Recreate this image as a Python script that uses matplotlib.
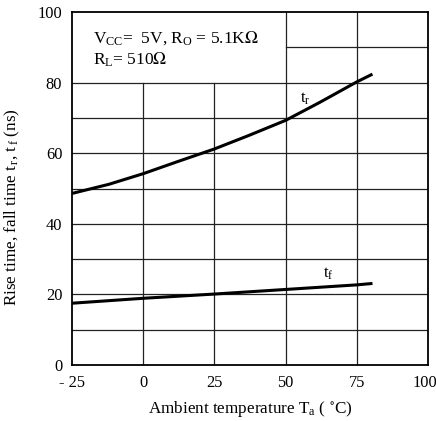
import matplotlib.pyplot as plt
from matplotlib.transforms import ScaledTranslation

plt.rcParams['font.family'] = ['Liberation Serif', 'DejaVu Serif']
plt.rcParams['mathtext.fontset'] = 'stix'

# rise time t_r (ns) vs ambient temperature
tr_temp = [-25, -12, 0, 12, 25, 37, 50, 62, 75, 80.5]
tr_vals = [48.6, 51.2, 54.2, 57.6, 61.2, 65.0, 69.3, 74.4, 80.2, 82.4]

# fall time t_f (ns)
tf_temp = [-25, 0, 25, 50, 75, 80.5]
tf_vals = [17.5, 18.9, 20.1, 21.4, 22.7, 23.1]

x_ticks = [-25, 0, 25, 50, 75, 100]
x_tick_labels = ['- 25', '0', '25', '50', '75', '100']
y_ticks = [0, 20, 40, 60, 80, 100]

fig = plt.figure(figsize=(4.36, 4.21), dpi=100)
ax = fig.add_axes([72 / 436, 56 / 421, 356 / 436, 353 / 421])

ax.set_xlim(-25, 100)
ax.set_ylim(0, 100)

# grid, left out behind the condition box (x < 50, y > 80)
for y in range(10, 100, 10):
    x0 = 50 if y > 80 else -25
    ax.plot([x0, 100], [y, y], color='#222222', lw=0.9, zorder=1)
for x in [0, 25, 50, 75]:
    y1 = 80 if x < 50 else 100
    ax.plot([x, x], [0, y1], color='#222222', lw=0.9, zorder=1)

ax.plot(tr_temp, tr_vals, color='black', lw=2.2, zorder=3, solid_capstyle='butt')
ax.plot(tf_temp, tf_vals, color='black', lw=2.2, zorder=3, solid_capstyle='butt')

ax.text(55, 74.2, r'$\mathregular{t_r}$', fontsize=12)
ax.text(63, 24.9, r'$\mathregular{t_f}$', fontsize=12)

ax.text(-17.6, 91.3, r'$\mathregular{V_{CC}}$=  5V, $\mathregular{R_O}$ = 5.1K$\Omega$', fontsize=12.5)
ax.text(-17.6, 85.0, r'$\mathregular{R_L}$= 510$\Omega$', fontsize=12.5)

ax.set_xticks(x_ticks)
ax.set_xticklabels(x_tick_labels)
ax.set_yticks(y_ticks)
ax.tick_params(length=0, labelsize=11.8, pad=7)
lab = ax.get_xticklabels()[-1]
lab.set_transform(lab.get_transform() + ScaledTranslation(-0.03, 0, fig.dpi_scale_trans))
for s in ax.spines.values():
    s.set_linewidth(1.3)

ax.set_xlabel(r'Ambient temperature $\mathregular{T_a}$ ( $^{\circ}$C)', fontsize=12.3, labelpad=6)
ax.set_ylabel(r'Rise time, fall time $\mathregular{t_{\,r}}$, $\mathregular{t_{\,f}}$ (ns)', fontsize=12.3)
ax.yaxis.set_label_coords(-0.14, 0.448)

fig.savefig('out.png', dpi=100)
